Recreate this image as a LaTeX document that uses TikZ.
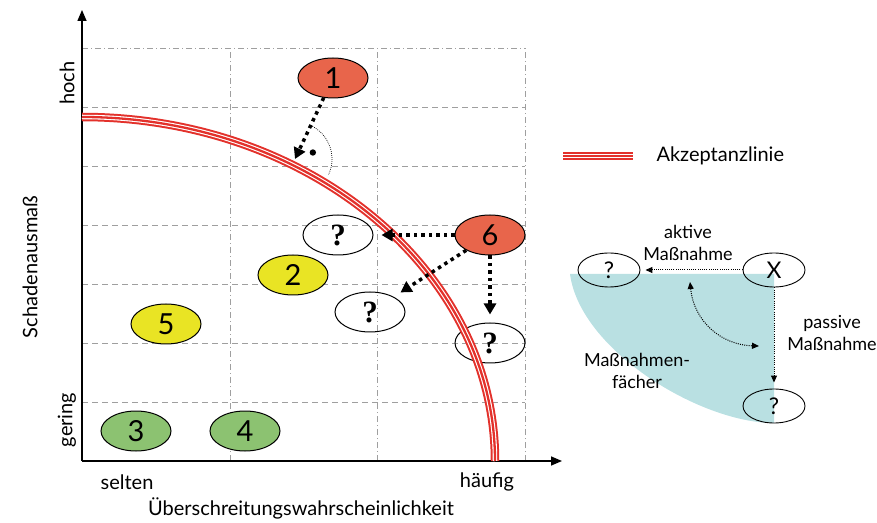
\documentclass[tikz,border=0pt]{standalone}
\usepackage{fontspec}
\setmainfont{Lato}
\newfontfamily\qfont{Liberation Serif}
\usetikzlibrary{arrows.meta, positioning, shapes.geometric}
\definecolor{riskred}{HTML}{E8654B}
\definecolor{riskyellow}{HTML}{E9E424}
\definecolor{riskgreen}{HTML}{8CC271}
\definecolor{linered}{HTML}{E3312B}
\definecolor{fanteal}{HTML}{B9E0E2}
\tikzset{
  risk/.style={
    ellipse,
    draw=black,
    line width=1pt,
    minimum width=70pt,
    minimum height=40pt,
    inner sep=0pt,
    font=\fontsize{29}{29}\selectfont
  },
  unknown/.style={
    risk,
    font=\qfont\bfseries\fontsize{31}{31}\selectfont
  },
  smallrisk/.style={
    ellipse,
    draw=black,
    line width=0.9pt,
    minimum width=62pt,
    minimum height=34pt,
    inner sep=0pt,
    font=\fontsize{23}{23}\selectfont
  },
  measure/.style={
    line width=3.5pt,
    dash pattern=on 3.5pt off 4pt,
    -{Triangle[length=11pt,width=12pt]},
    shorten >=8pt
  },
  hint/.style={
    line width=1pt,
    dash pattern=on 1pt off 1.2pt,
    -{Triangle[length=7pt,width=6pt]}
  },
  gridline/.style={gray!75, line width=0.9pt, dash pattern=on 6pt off 4pt},
  gridaxis/.style={gray!75, line width=0.8pt, dash pattern=on 6pt off 3pt on 1pt off 3pt},
  acceptance/.style={
    line width=8.5pt, draw=linered,
    postaction={draw=white, line width=4.5pt},
    postaction={draw=linered, line width=2.3pt}
  },
  label/.style={font=\fontsize{20}{23}\selectfont, align=center},
  fanlabel/.style={font=\fontsize{18}{22}\selectfont, align=center}
}

\begin{document}
\begin{tikzpicture}[x=1pt, y=1pt, >=Stealth]
\useasboundingbox (0,0) rectangle (877,522);

% --- grid ---
\foreach \y in {120,179,238,297,356,415}
  \draw[gridline] (82,\y) -- (525,\y);
\draw[gridaxis] (82,474) -- (525,474);
\foreach \x in {230,377,525}
  \draw[gridaxis] (\x,61) -- (\x,474);

% --- axes ---
\coordinate (origin) at (82,61);
\coordinate (ytop) at (82,512);
\coordinate (xend) at (562,61);
\draw[line width=1.5pt, -{Triangle[length=11pt,width=9pt]}] (origin) -- (ytop);
\draw[line width=1.5pt, -{Triangle[length=11pt,width=9pt]}] (origin) -- (xend);

\node (hoch) [label, rotate=90] at (67,439) {hoch};
\node (gering) [label, rotate=90] at (67,102) {gering};
\node (ylabel) [label, rotate=90] at (30,255) {Schadenausmaß};
\node (selten) [label] at (127,40) {selten};
\node (haeufig) [label] at (487,40) {häufig};
\node (xlabel) [label] at (301,14) {Überschreitungswahrscheinlichkeit};

% --- risks ---
\node (r1) [risk, fill=riskred] at (333,444) {1};
\node (r6) [risk, fill=riskred] at (490,287) {6};
\node (r2) [risk, fill=riskyellow] at (293,247) {2};
\node (r5) [risk, fill=riskyellow] at (166,198) {5};
\node (r3) [risk, fill=riskgreen] at (136,91) {3};
\node (r4) [risk, fill=riskgreen] at (245,91) {4};
\node (q1) [unknown] at (338,287) {?};
\node (q2) [unknown] at (370,210) {?};
\node (q3) [unknown] at (490,179) {?};

% --- acceptance line ---
\draw[acceptance] (82,405) arc[start angle=90, end angle=0, x radius=413, y radius=344];

% --- measures ---
\coordinate (foot) at (295,363);
\draw[measure, shorten >=0pt] (r1) -- (foot);
\draw[line width=0.7pt, dash pattern=on 0.8pt off 1.2pt] (foot) ++(65:37) arc[start angle=65, end angle=-25, radius=37];
\fill (foot) ++(20:19) circle (3.2);
\draw[measure] (r6) -- (q1);
\draw[measure] (r6) -- (q2);
\draw[measure] (r6.south) -- (q3);

% --- legend ---
\coordinate (legA) at (563,366);
\coordinate (legB) at (633,366);
\draw[acceptance] (legA) -- (legB);
\node (legtext) [label, anchor=west] at (653,366) {Akzeptanzlinie};

% --- fan of measures ---
\fill[fanteal] (570,248) -- (774,248) -- (774,99) .. controls (700,99) and (580,172) .. (570,248);
\node (x) [smallrisk] at (774,252) {X};
\node (qa) [smallrisk] at (609,252) {?};
\node (qb) [smallrisk] at (774,116) {?};
\draw[hint, shorten >=5pt] (x) -- (qa);
\draw[hint, shorten >=6pt] (x) -- (qb);
\coordinate (fanA) at (690,240);
\coordinate (fanB) at (759,176);
\draw[hint, {Triangle[length=7pt,width=6pt]}-{Triangle[length=7pt,width=6pt]}] (fanA) .. controls (694,200) and (722,177) .. (fanB);
\node (aktiv) [fanlabel] at (688,279) {aktive\\Maßnahme};
\node (passiv) [fanlabel] at (832,189) {passive\\Maßnahme};
\node (faecher) [fanlabel] at (637,151) {Maßnahmen-\\fächer};

\end{tikzpicture}
\end{document}
